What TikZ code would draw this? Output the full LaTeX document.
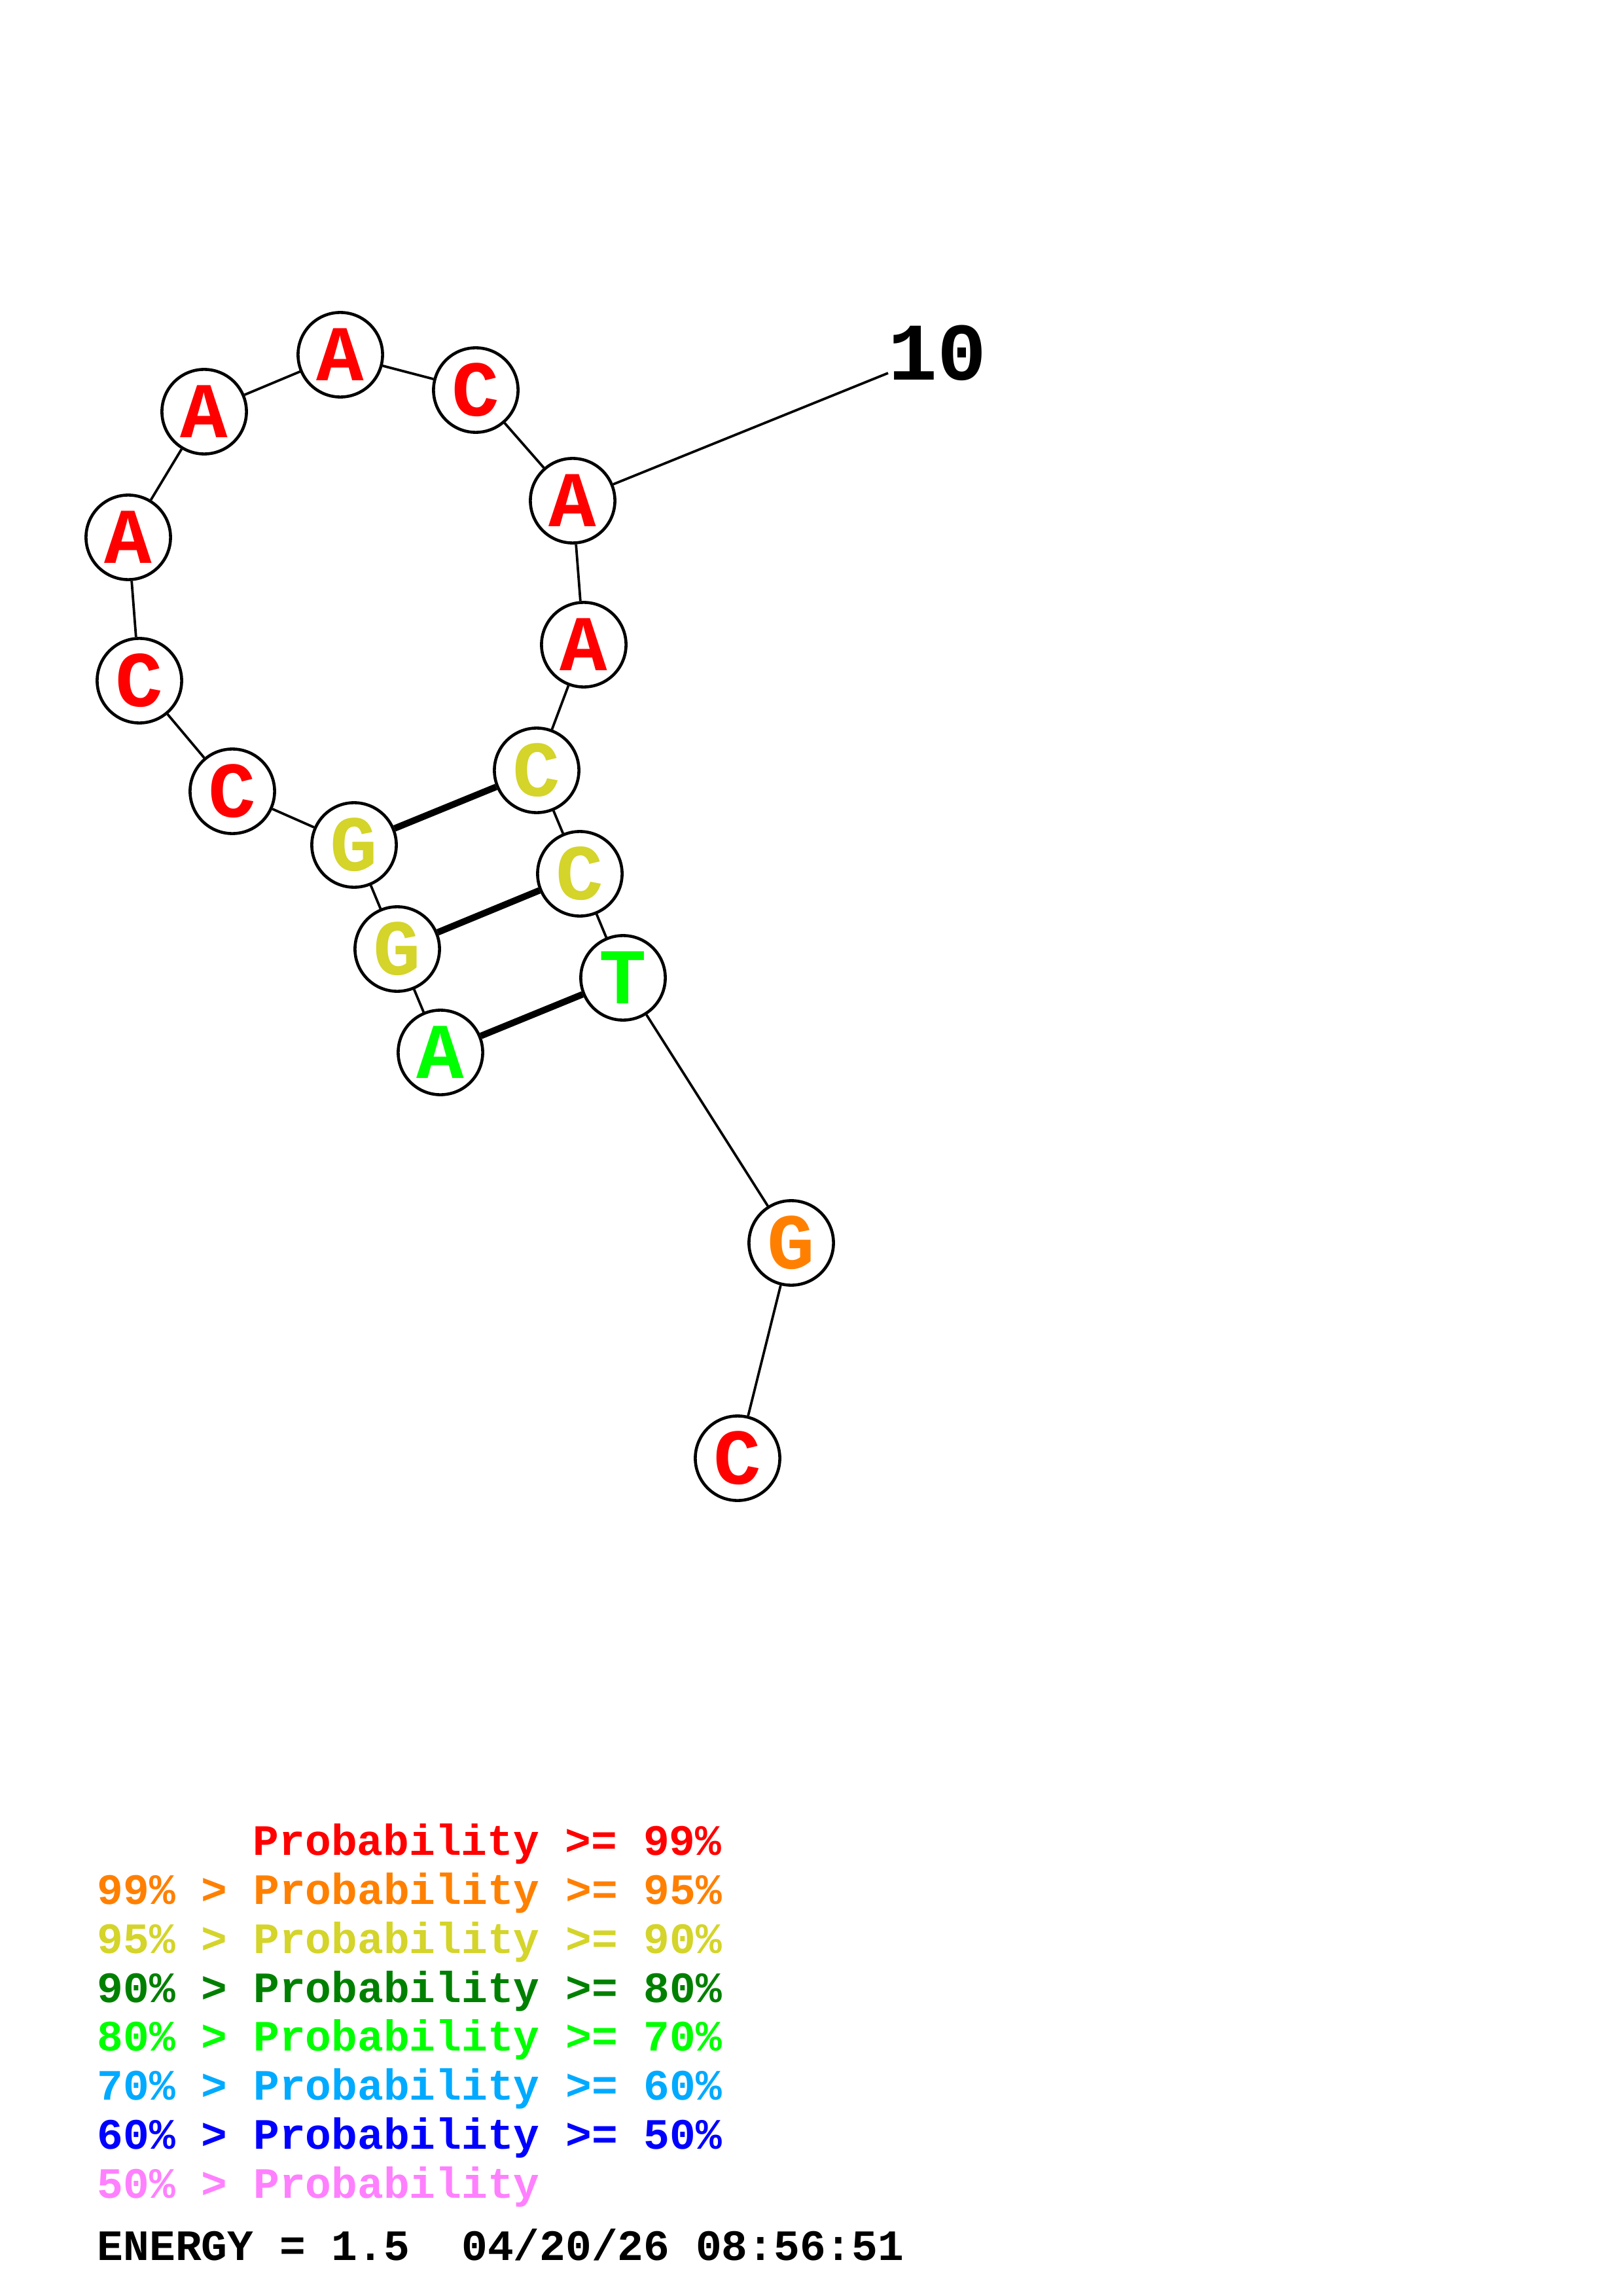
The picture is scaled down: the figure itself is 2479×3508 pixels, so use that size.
\documentclass[tikz,border=0pt]{standalone}
\usepackage{fontspec}
\newfontfamily\courfont{Liberation Mono}
\definecolor{cRed}{RGB}{255,0,0}
\definecolor{cOrange}{RGB}{255,128,0}
\definecolor{cYellow}{RGB}{212,212,42}
\definecolor{cDkGreen}{RGB}{0,128,0}
\definecolor{cGreen}{RGB}{0,255,0}
\definecolor{cSky}{RGB}{0,170,255}
\definecolor{cBlue}{RGB}{0,0,255}
\definecolor{cPink}{RGB}{255,128,255}
\begin{document}
\begin{tikzpicture}[x=0.24pt,y=-0.24pt,
  base/.style={circle, draw=black, fill=white, line width=1.1pt, minimum size=31pt, inner sep=0pt,
    font=\courfont\bfseries\fontsize{29}{29}\selectfont},
  bb/.style={line width=0.9pt},
  bond/.style={line width=2.4pt},
  legend/.style={anchor=base west, inner sep=0pt, font=\courfont\bfseries\fontsize{15.9}{16}\selectfont}]
\path[use as bounding box] (0,0) rectangle (2479,3508);
% nucleotides
\node[base, text=cGreen]  (n1)  at (673,1608) {\raisebox{-1.4pt}{A}};
\node[base, text=cYellow] (n2)  at (607,1450) {\raisebox{-1.4pt}{G}};
\node[base, text=cYellow] (n3)  at (541,1291) {\raisebox{-1.4pt}{G}};
\node[base, text=cRed]    (n4)  at (355,1209) {\raisebox{-1.4pt}{C}};
\node[base, text=cRed]    (n5)  at (213,1040) {\raisebox{-1.4pt}{C}};
\node[base, text=cRed]    (n6)  at (196,821)  {\raisebox{-1.4pt}{A}};
\node[base, text=cRed]    (n7)  at (312,629)  {\raisebox{-1.4pt}{A}};
\node[base, text=cRed]    (n8)  at (520,542)  {\raisebox{-1.4pt}{A}};
\node[base, text=cRed]    (n9)  at (727,596)  {\raisebox{-1.4pt}{C}};
\node[base, text=cRed]    (n10) at (875,765)  {\raisebox{-1.4pt}{A}};
\node[base, text=cRed]    (n11) at (892,985)  {\raisebox{-1.4pt}{A}};
\node[base, text=cYellow] (n12) at (820,1177) {\raisebox{-1.4pt}{C}};
\node[base, text=cYellow] (n13) at (886,1335) {\raisebox{-1.4pt}{C}};
\node[base, text=cGreen]  (n14) at (952,1494) {\raisebox{-1.4pt}{T}};
\node[base, text=cOrange] (n15) at (1209,1899) {\raisebox{-1.4pt}{G}};
\node[base, text=cRed]    (n16) at (1127,2228) {\raisebox{-1.4pt}{C}};
% backbone
\draw[bb] (n1)--(n2);
\draw[bb] (n2)--(n3);
\draw[bb] (n3)--(n4);
\draw[bb] (n4)--(n5);
\draw[bb] (n5)--(n6);
\draw[bb] (n6)--(n7);
\draw[bb] (n7)--(n8);
\draw[bb] (n8)--(n9);
\draw[bb] (n9)--(n10);
\draw[bb] (n10)--(n11);
\draw[bb] (n11)--(n12);
\draw[bb] (n12)--(n13);
\draw[bb] (n13)--(n14);
\draw[bb] (n14)--(n15);
\draw[bb] (n15)--(n16);
% base pairs
\draw[bond] (n3)--(n12);
\draw[bond] (n2)--(n13);
\draw[bond] (n1)--(n14);
% numbering label
\coordinate (tick10) at (1357,570);
\draw[bb] (n10)--(tick10);
\node[anchor=base west, inner sep=0pt, font=\courfont\bfseries\fontsize{30}{30}\selectfont] (lab10) at (1357,581) {10};
% legend
\node[legend, text=cRed]     (L1) at (386,2834) {Probability >= 99\%};
\node[legend, text=cOrange]  (L2) at (148,2909) {99\% > Probability >= 95\%};
\node[legend, text=cYellow]  (L3) at (148,2984) {95\% > Probability >= 90\%};
\node[legend, text=cDkGreen] (L4) at (148,3059) {90\% > Probability >= 80\%};
\node[legend, text=cGreen]   (L5) at (148,3133) {80\% > Probability >= 70\%};
\node[legend, text=cSky]     (L6) at (148,3208) {70\% > Probability >= 60\%};
\node[legend, text=cBlue]    (L7) at (148,3283) {60\% > Probability >= 50\%};
\node[legend, text=cPink]    (L8) at (148,3358) {50\% > Probability};
\node[legend, text=black]    (L9) at (148,3453) {ENERGY = 1.5\ \ 04/20/26 08:56:51};
\end{tikzpicture}
\end{document}
